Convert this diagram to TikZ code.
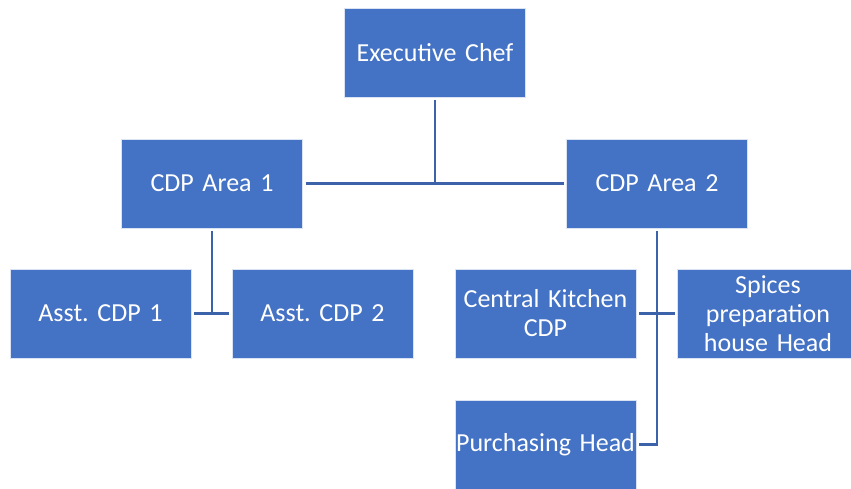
\documentclass[tikz,border=0pt]{standalone}
\usepackage{fontspec}
\setmainfont{Carlito}
\usepackage{tikz}
\frenchspacing

\definecolor{boxblue}{RGB}{68,114,196}
\definecolor{lineblue}{RGB}{60,98,170}

\tikzset{
  chartbox/.style={rectangle, fill=boxblue, draw=white!80!boxblue, line width=0.8pt,
    minimum width=181pt, minimum height=89pt, text width=181pt, inner sep=0pt,
    outer sep=3pt, align=center, text=white, font=\fontsize{26}{29}\selectfont},
  link/.style={draw=lineblue, line width=2.6pt}
}

\begin{document}
\begin{tikzpicture}[x=1pt, y=-1pt]
    \useasboundingbox (0,0) rectangle (851,489);

    \node [chartbox] (exec) at (435,52.5) {Executive Chef};
    \node [chartbox] (area1) at (212,183.5) {CDP Area 1};
    \node [chartbox] (area2) at (657,183.5) {CDP Area 2};

    \node [chartbox] (asst1) at (100.5,313.5) {Asst. CDP 1};
    \node [chartbox] (asst2) at (322.5,313.5) {Asst. CDP 2};

    \node [chartbox] (kitchen) at (545.5,313.5) {Central Kitchen\\CDP};
    \node [chartbox] (spices) at (768,313.5) {Spices\\preparation\\house Head};
    \node [chartbox] (purch) at (545.5,444.5) {Purchasing Head};

    \draw [link] (exec.south) -- (exec.south |- area1.east);
    \draw [link] (area1.east) -- (area2.west);

    \draw [link] (area1.south) -- (area1.south |- asst1.east);
    \draw [link] (asst1.east) -- (asst2.west);

    \draw [link] (area2.south) |- (purch.east);
    \draw [link] (kitchen.east) -- (spices.west);
\end{tikzpicture}
\end{document}
